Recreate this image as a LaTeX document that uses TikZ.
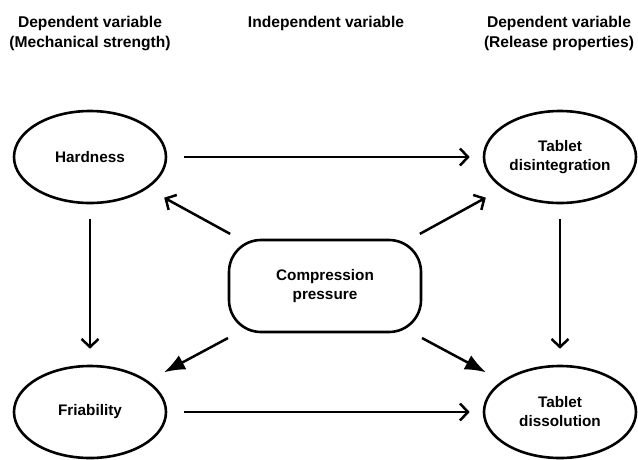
\documentclass[tikz,border=0pt]{standalone}
\usepackage{fontspec}
\setmainfont{Liberation Sans}
\usetikzlibrary{arrows.meta,positioning,shapes.geometric}

\tikzset{
  var/.style={ellipse, draw, line width=2.6pt, minimum width=152pt, minimum height=92pt,
    inner sep=0pt, align=center, font=\fontsize{15.3}{19}\selectfont\bfseries},
  press/.style={rectangle, rounded corners=32pt, draw, line width=2.6pt, minimum width=192pt,
    minimum height=92pt, inner sep=0pt, align=center, font=\fontsize{15.3}{19}\selectfont\bfseries},
  head/.style={align=center, font=\fontsize{15.6}{20}\selectfont\bfseries},
  open/.style={-{Straight Barb[length=8pt,width=17pt,line width=2.5pt]}},
  full/.style={-{Latex[length=21pt,width=16pt]}}
}

\begin{document}
\begin{tikzpicture}[x=1pt,y=-1pt,on grid,line width=2.5pt]
    \useasboundingbox (0,0) rectangle (638,459);

    % headings
    \node[head] (h_l) at (90,33) {Dependent variable\\(Mechanical strength)};
    \node[head] (h_m) at (326,23) {Independent variable};
    \node[head] (h_r) at (559,33) {Dependent variable\\(Release properties)};

    % variables
    \node[var] (hard) at (90,157) {Hardness};
    \node[var] (dis) [right=470pt of hard] {Tablet\\disintegration};
    \node[var] (fri) [below=255pt of hard] {Friability};
    \node[var] (sol) [right=470pt of fri] {Tablet\\dissolution};
    \node[press] (comp) at (325,286) {Compression\\pressure};

    \path[open]
    (hard) edge [shorten <=17pt, shorten >=13pt] (dis)
    (fri) edge [shorten <=17pt, shorten >=13pt] (sol)
    (hard) edge [shorten <=15pt, shorten >=16pt] (fri)
    (dis) edge [shorten <=15pt, shorten >=16pt] (sol)
    (comp) edge [shorten <=10pt, shorten >=19pt] (hard)
    (comp) edge [shorten <=10pt, shorten >=19pt] (dis);

    \path[full]
    (comp) edge [shorten <=10pt, shorten >=18pt] (fri)
    (comp) edge [shorten <=10pt, shorten >=18pt] (sol);
\end{tikzpicture}
\end{document}
